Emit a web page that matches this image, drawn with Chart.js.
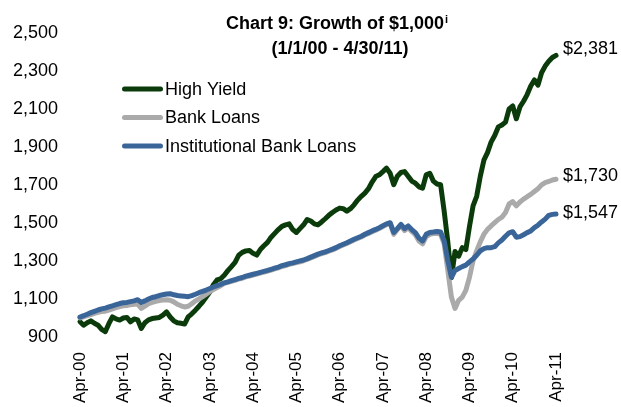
<!DOCTYPE html>
<html><head><meta charset="utf-8">
<script src="https://cdn.jsdelivr.net/npm/chart.js@4.4.0/dist/chart.umd.min.js"></script>
<style>html,body{margin:0;padding:0;background:#fff;}#wrap{width:621px;height:407px;position:relative;}</style>
</head><body><div id="wrap"><canvas id="c"></canvas></div>
<script>
// Monthly values, Apr-00 .. Apr-11 (each row = Apr..Mar)
const highYield = [
  980, 962, 975, 985, 972, 962, 940, 928, 970, 1006, 995, 989,
  1000, 1003, 980, 995, 990, 945, 975, 990, 997, 1000, 1003, 1015,
  1032, 1005, 985, 975, 972, 968, 1006, 1022, 1041, 1062, 1084, 1110,
  1136, 1175, 1200, 1206, 1225, 1249, 1270, 1292, 1330, 1345, 1353, 1355,
  1340, 1331, 1360, 1380, 1398, 1425, 1445, 1465, 1482, 1490, 1495, 1465,
  1450, 1470, 1490, 1518, 1510, 1495, 1490, 1505, 1522, 1540, 1555, 1568,
  1578, 1575, 1562, 1575, 1595, 1620, 1640, 1657, 1680, 1715, 1744, 1753,
  1770, 1788, 1761, 1701, 1745, 1765, 1770, 1745, 1720, 1709, 1690, 1683,
  1753, 1761, 1720, 1705, 1701, 1560, 1400, 1212, 1350, 1325, 1370, 1360,
  1480, 1590, 1640, 1745, 1830, 1870, 1925, 1960, 2005, 2015, 2030, 2100,
  2115, 2048, 2110, 2140, 2175, 2220, 2252, 2225, 2290, 2325, 2350, 2370,
  2381
];
const bankLoans = [
  1000, 1006, 1012, 1018, 1024, 1030, 1034, 1036, 1042, 1048, 1054, 1060,
  1064, 1066, 1070, 1072, 1074, 1050, 1062, 1075, 1082, 1088, 1092, 1094,
  1096, 1093, 1085, 1072, 1064, 1058, 1062, 1075, 1090, 1100, 1112, 1125,
  1138, 1150, 1160, 1170, 1182, 1187, 1193, 1198, 1204, 1209, 1216, 1221,
  1226, 1231, 1236, 1241, 1246, 1252, 1258, 1264, 1271, 1276, 1282, 1286,
  1291, 1296, 1301, 1308, 1316, 1324, 1332, 1338, 1344, 1351, 1358, 1366,
  1376, 1384, 1392, 1401, 1410, 1418, 1426, 1436, 1445, 1454, 1462, 1471,
  1481, 1491, 1497, 1440, 1465, 1486, 1460, 1476, 1455, 1438, 1405, 1390,
  1428, 1440, 1444, 1446, 1440, 1390, 1250, 1110, 1050, 1093, 1110, 1145,
  1214, 1301, 1353, 1400, 1440, 1466, 1484, 1501, 1518, 1530, 1555, 1600,
  1612, 1590, 1610, 1625, 1638, 1650, 1665, 1680, 1700, 1712, 1718, 1726,
  1730
];
const instBankLoans = [
  1005, 1012, 1020, 1028, 1035, 1042, 1048, 1052, 1058, 1064, 1070, 1076,
  1080, 1082, 1086, 1090, 1096, 1082, 1090, 1100, 1108, 1112, 1118, 1122,
  1126, 1128, 1122, 1118, 1116, 1114, 1112, 1118, 1125, 1133, 1140, 1147,
  1155, 1163, 1170, 1177, 1185, 1190, 1196, 1202, 1208, 1213, 1220, 1225,
  1230, 1235, 1240, 1245, 1250, 1256, 1262, 1268, 1275, 1280, 1286, 1290,
  1295, 1300, 1305, 1312, 1320, 1328, 1336, 1342, 1348, 1355, 1362, 1370,
  1380, 1388, 1396, 1405, 1414, 1422, 1430, 1440, 1449, 1458, 1466, 1475,
  1485, 1495, 1501, 1450, 1470, 1492, 1470, 1484, 1465, 1449, 1420, 1405,
  1440, 1450, 1452, 1455, 1452, 1405, 1300, 1214, 1250, 1260, 1270, 1278,
  1295, 1310, 1330, 1353, 1365, 1370, 1370, 1375, 1395, 1410, 1430, 1448,
  1454, 1425, 1428, 1438, 1449, 1458, 1475, 1488, 1505, 1520, 1540, 1545,
  1547
];
const seriesNames = ['High Yield', 'Bank Loans', 'Institutional Bank Loans'];
const tickLabels = ['Apr-00','Apr-01','Apr-02','Apr-03','Apr-04','Apr-05','Apr-06','Apr-07','Apr-08','Apr-09','Apr-10','Apr-11'];
const titleLines = ['Chart 9: Growth of $1,000', '(1/1/00 - 4/30/11)'];
const titleSup = 'i';
const yMin = 900, yMax = 2500, yStep = 200;

const MONTHS = ['Jan','Feb','Mar','Apr','May','Jun','Jul','Aug','Sep','Oct','Nov','Dec'];
const categories = highYield.map((_, i) => {
  const k = 3 + i;
  return MONTHS[k % 12] + '-' + String((2000 + Math.floor(k / 12)) % 100).padStart(2, '0');
});
const fmt = v => String(v).replace(/\B(?=(\d{3})+(?!\d))/g, ',');
const FONT = "'Liberation Sans', Arial, sans-serif";

const decor = {
  id: 'decor',
  afterDatasetsDraw(chart) {
    const ctx = chart.ctx;
    ctx.save();
    ctx.fillStyle = '#000';
    // title
    ctx.textBaseline = 'alphabetic';
    ctx.font = 'bold 18px ' + FONT;
    const w1 = ctx.measureText(titleLines[0]).width;
    ctx.font = 'bold 11px ' + FONT;
    const ws = ctx.measureText(titleSup).width;
    const x0 = 337 - (w1 + ws + 1) / 2;
    ctx.textAlign = 'left';
    ctx.font = 'bold 18px ' + FONT;
    ctx.fillText(titleLines[0], x0, 29);
    ctx.font = 'bold 11px ' + FONT;
    ctx.fillText(titleSup, x0 + w1 + 1, 23);
    ctx.font = 'bold 18px ' + FONT;
    ctx.textAlign = 'center';
    ctx.fillText(titleLines[1], 340, 54);
    // legend
    chart.data.datasets.forEach((ds, k) => {
      const y = 89 + k * 28.5;
      ctx.strokeStyle = ds.borderColor;
      ctx.lineWidth = 5;
      ctx.lineCap = 'round';
      ctx.beginPath(); ctx.moveTo(124.5, y); ctx.lineTo(160.5, y); ctx.stroke();
      ctx.font = '18px ' + FONT;
      ctx.textAlign = 'left';
      ctx.textBaseline = 'middle';
      ctx.fillText(ds.label, 165, y + 1);
    });
    // end labels
    const offs = [-6, -3, -1];
    chart.data.datasets.forEach((ds, k) => {
      const meta = chart.getDatasetMeta(k);
      const p = meta.data[meta.data.length - 1];
      ctx.font = '18px ' + FONT;
      ctx.textAlign = 'left';
      ctx.textBaseline = 'middle';
      ctx.fillText('$' + fmt(ds.data[ds.data.length - 1]), p.x + 7, p.y + offs[k]);
    });
    ctx.restore();
  }
};

const colors = ['#0b3b0b', '#aaaaaa', '#3a6599'];
const datasets = [highYield, bankLoans, instBankLoans].map((d, k) => ({
  label: seriesNames[k], data: d, borderColor: colors[k], order: 3 - k,
  borderWidth: 5, pointRadius: 0, tension: 0, fill: false,
  borderCapStyle: 'round', borderJoinStyle: 'round', clip: false
}));

new Chart(document.getElementById('c'), {
  type: 'line',
  data: { labels: categories, datasets },
  options: {
    responsive: true, maintainAspectRatio: false, animation: false,
    layout: { padding: { left: 0, right: 65, top: 30, bottom: 0 } },
    plugins: { legend: { display: false }, title: { display: false }, tooltip: { enabled: false } },
    scales: {
      x: {
        type: 'category', offset: false,
        grid: { display: false, drawTicks: false }, border: { display: false },
        ticks: {
          autoSkip: false, maxRotation: 90, minRotation: 90, padding: 15, color: '#000',
          font: { family: FONT, size: 17 },
          callback(v) { const l = this.getLabelForValue(v); return tickLabels.includes(l) ? l : ''; }
        },
        afterFit(s) { s.height = 70; }
      },
      y: {
        min: yMin, max: yMax,
        grid: { display: false, drawTicks: false }, border: { display: false },
        ticks: { stepSize: yStep, padding: 22, color: '#000', font: { family: FONT, size: 18 }, callback: v => fmt(v) },
        afterFit(s) { s.width = 80; }
      }
    }
  },
  plugins: [decor]
});
</script>
</body></html>
